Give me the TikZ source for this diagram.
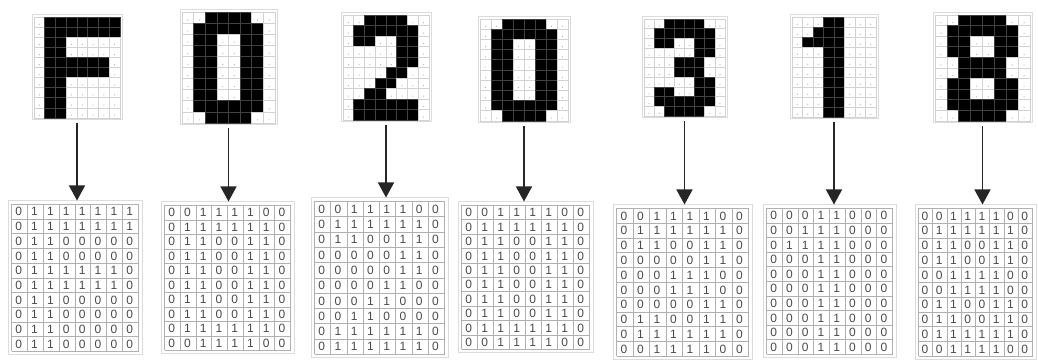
\documentclass[tikz,border=0pt]{standalone}
\usepackage{fontspec}
\setmainfont{Liberation Sans}
\usetikzlibrary{arrows.meta,fit}

\definecolor{gridGray}{HTML}{D2D2D2}
\definecolor{frameGray}{HTML}{DCDCDC}
\definecolor{matGray}{HTML}{B0B0B0}
\definecolor{digitGray}{HTML}{4A4A4A}

% 8x10 bit patterns, one row per brace group
\def\bitsF{{0,1,1,1,1,1,1,1},{0,1,1,1,1,1,1,1},{0,1,1,0,0,0,0,0},{0,1,1,0,0,0,0,0},{0,1,1,1,1,1,1,0},%
  {0,1,1,1,1,1,1,0},{0,1,1,0,0,0,0,0},{0,1,1,0,0,0,0,0},{0,1,1,0,0,0,0,0},{0,1,1,0,0,0,0,0}}
\def\bitsZero{{0,0,1,1,1,1,0,0},{0,1,1,1,1,1,1,0},{0,1,1,0,0,1,1,0},{0,1,1,0,0,1,1,0},{0,1,1,0,0,1,1,0},%
  {0,1,1,0,0,1,1,0},{0,1,1,0,0,1,1,0},{0,1,1,0,0,1,1,0},{0,1,1,1,1,1,1,0},{0,0,1,1,1,1,0,0}}
\def\bitsTwo{{0,0,1,1,1,1,0,0},{0,1,1,1,1,1,1,0},{0,1,1,0,0,1,1,0},{0,0,0,0,0,1,1,0},{0,0,0,0,0,1,1,0},%
  {0,0,0,0,1,1,0,0},{0,0,0,1,1,0,0,0},{0,0,1,1,0,0,0,0},{0,1,1,1,1,1,1,0},{0,1,1,1,1,1,1,0}}
\def\bitsThree{{0,0,1,1,1,1,0,0},{0,1,1,1,1,1,1,0},{0,1,1,0,0,1,1,0},{0,0,0,0,0,1,1,0},{0,0,0,1,1,1,0,0},%
  {0,0,0,1,1,1,0,0},{0,0,0,0,0,1,1,0},{0,1,1,0,0,1,1,0},{0,1,1,1,1,1,1,0},{0,0,1,1,1,1,0,0}}
\def\bitsOne{{0,0,0,1,1,0,0,0},{0,0,1,1,1,0,0,0},{0,1,1,1,1,0,0,0},{0,0,0,1,1,0,0,0},{0,0,0,1,1,0,0,0},%
  {0,0,0,1,1,0,0,0},{0,0,0,1,1,0,0,0},{0,0,0,1,1,0,0,0},{0,0,0,1,1,0,0,0},{0,0,0,1,1,0,0,0}}
\def\bitsEight{{0,0,1,1,1,1,0,0},{0,1,1,1,1,1,1,0},{0,1,1,0,0,1,1,0},{0,1,1,0,0,1,1,0},{0,0,1,1,1,1,0,0},%
  {0,0,1,1,1,1,0,0},{0,1,1,0,0,1,1,0},{0,1,1,0,0,1,1,0},{0,1,1,1,1,1,1,0},{0,0,1,1,1,1,0,0}}

% pixel glyph: name, x0, y0, x1, y1, bits
\newcommand{\glyph}[6]{%
  \node[glyphframe, fit={(#2,#3) (#4,#5)}] (#1) {};
  \pgfmathsetmacro\cw{(#4-#2-4)/8}%
  \pgfmathsetmacro\ch{(#5-#3-4)/10}%
  \foreach \row [count=\r from 0] in #6 {
    \foreach \v [count=\c from 0] in \row {
      \ifnum\v=1\relax
        \filldraw[bitcell] ({#2+2+\c*\cw},{#3+2+\r*\ch}) rectangle ++(\cw,\ch);
      \else
        \draw[dotcell] ({#2+2+\c*\cw},{#3+2+\r*\ch}) rectangle ++(\cw,\ch);
        \fill[matGray] ({#2+2+(\c+0.5)*\cw},{#3+2+(\r+0.72)*\ch}) circle (0.3pt);
      \fi
    }
  }
}

% binary table: name, x0, y0, x1, y1, bits
\newcommand{\bitmat}[6]{%
  \node[matframe, fit={(#2,#3) (#4,#5)}] (#1) {};
  \pgfmathsetmacro\cw{(#4-#2-7)/8}%
  \pgfmathsetmacro\ch{(#5-#3-7)/10}%
  \foreach \k in {0,...,8}
    \draw[matgrid] ({#2+3.5+\k*\cw},{#3+3.5}) -- ({#2+3.5+\k*\cw},{#5-3.5});
  \foreach \k in {0,...,10}
    \draw[matgrid] ({#2+3.5},{#3+3.5+\k*\ch}) -- ({#4-3.5},{#3+3.5+\k*\ch});
  \foreach \row [count=\r from 0] in #6 {
    \foreach \v [count=\c from 0] in \row
      \node[bit] (#1-\r-\c) at ({#2+3.5+(\c+0.45)*\cw},{#3+3.5+(\r+0.5)*\ch}) {\v};
  }
}

\begin{document}
\begin{tikzpicture}[x=0.5pt, y=-0.5pt,
  glyphframe/.style={draw=frameGray, line width=0.5pt, inner sep=0pt},
  matframe/.style={draw=frameGray, line width=0.5pt, inner sep=0pt},
  bitcell/.style={fill=black, draw=black!75!white, line width=0.3pt},
  dotcell/.style={draw=gridGray, line width=0.3pt},
  matgrid/.style={draw=matGray, line width=0.4pt},
  bit/.style={font=\fontsize{6}{7}\selectfont, text=digitGray, inner sep=0pt},
  arr/.style={-{Triangle[width=8pt,length=7.5pt]}, draw=black!85, line width=0.7pt,
              shorten <=1.5pt}
]
\clip (0,0) rectangle (1038,362);
\fill[white] (0,0) rectangle (1038,362);

% glyphs on top
\glyph{g1}{32}{15}{122}{120}{\bitsF}
\glyph{g2}{180}{10}{277}{125}{\bitsZero}
\glyph{g3}{341}{13}{431}{122}{\bitsTwo}
\glyph{g4}{478}{17}{570}{123}{\bitsZero}
\glyph{g5}{642}{17}{727}{118}{\bitsThree}
\glyph{g6}{790}{15}{878}{119}{\bitsOne}
\glyph{g7}{933}{13}{1032}{123}{\bitsEight}

% binary tables below
\bitmat{m1}{8}{201}{142}{355}{\bitsF}
\bitmat{m2}{161}{202}{294}{354}{\bitsZero}
\bitmat{m3}{311}{198}{448}{358}{\bitsTwo}
\bitmat{m4}{458}{202}{593}{353}{\bitsZero}
\bitmat{m5}{613}{205}{752}{360}{\bitsThree}
\bitmat{m6}{763}{205}{896}{358}{\bitsOne}
\bitmat{m7}{915}{205}{1036}{360}{\bitsEight}

\foreach \i in {1,...,7}
  \draw[arr] (g\i.south) -- (g\i.south |- m\i.north);
\end{tikzpicture}
\end{document}
